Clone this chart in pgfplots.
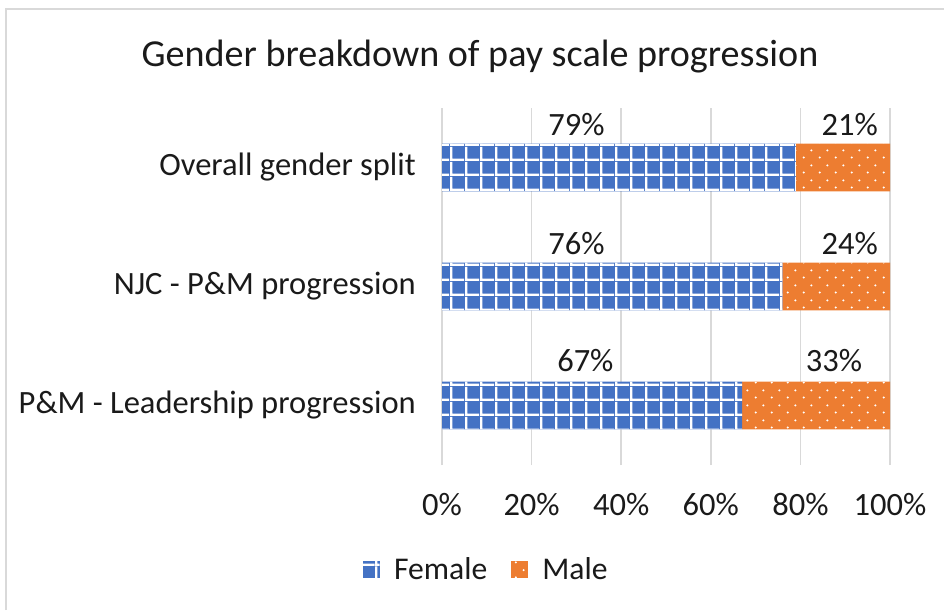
\documentclass[border=0pt]{standalone}
\usepackage{fontspec}
\setmainfont{Carlito}
\usepackage{pgfplots}
\pgfplotsset{compat=1.18}
\usetikzlibrary{patterns.meta}

\definecolor{fem}{HTML}{4472C4}
\definecolor{mal}{HTML}{ED7D31}
\definecolor{gridc}{HTML}{D9D9D9}
\definecolor{txt}{HTML}{1A1A1A}

% white grid over the blue bars
\tikzdeclarepattern{
  name=fgrid,
  type=uncolored,
  bounding box={(0,0) and (0.3cm,0.3cm)},
  tile size={(0.3cm,0.3cm)},
  code={
    \pgfpathrectangle{\pgfpointorigin}{\pgfpoint{0.3cm}{0.05cm}}
    \pgfpathrectangle{\pgfpointorigin}{\pgfpoint{0.05cm}{0.3cm}}
    \pgfusepath{fill}
  }
}
% sparse white dots over the orange bars
\tikzdeclarepattern{
  name=mdots,
  type=uncolored,
  bounding box={(0,0) and (0.32cm,0.3cm)},
  tile size={(0.32cm,0.3cm)},
  code={
    \pgfpathcircle{\pgfpoint{0.08cm}{0.075cm}}{0.024cm}
    \pgfpathcircle{\pgfpoint{0.24cm}{0.225cm}}{0.024cm}
    \pgfusepath{fill}
  }
}

% y: 0 = P&M - Leadership, 1 = NJC - P&M, 2 = Overall
\pgfplotstableread{
y female male
0 67 33
1 76 24
2 79 21
}\splitdata

\pgfplotstableread{
x y label
30   2.36 79\%
91   2.36 21\%
30   1.36 76\%
91   1.36 24\%
32   0.38 67\%
87.5 0.38 33\%
}\labeldata

\begin{document}
\begin{tikzpicture}
\useasboundingbox (0,0) rectangle (18.88,12.2);
\draw[gridc, line width=1.5pt] (0.12,0) -- (0.12,12.02) -- (18.88,12.02);
\node[font=\fontsize{21.7}{26}\selectfont, text=txt] at (9.6,11.06) {Gender breakdown of pay scale progression};

\begin{axis}[
  at={(8.84cm,2.9cm)}, anchor=south west,
  scale only axis,
  width=8.96cm, height=7.14cm,
  xbar stacked,
  bar width=0.4,
  xmin=0, xmax=100,
  ymin=-0.5, ymax=2.5,
  xtick={0,20,40,60,80,100},
  xticklabel={\pgfmathprintnumber{\tick}\%},
  ytick={0,1,2},
  yticklabels={P\&M - Leadership progression, NJC - P\&M progression, Overall gender split},
  xmajorgrids,
  grid style={gridc, line width=1pt},
  axis line style={draw=none},
  major tick length=0pt,
  tick label style={font=\fontsize{18.5}{22}\selectfont, text=txt},
  /pgf/number format/assume math mode=true,
  xticklabel style={yshift=-0.45cm},
  yticklabel style={xshift=-0.4cm},
  legend style={at={(0.1,-0.294)}, anchor=center, draw=none,
    font=\fontsize{18}{21}\selectfont, text=txt, legend columns=-1,
    /tikz/every even column/.append style={column sep=0.4cm},
    /tikz/every odd column/.append style={column sep=0.22cm}},
  legend image code/.code={
    \draw[#1, draw=none] (0cm,-0.17cm) rectangle (0.34cm,0.17cm);
  },
]
\addplot[fill=fem, draw=none,
  postaction={pattern={fgrid}, pattern color=white}]
  table[x=female, y=y] {\splitdata};
\addlegendentry{Female}
\addplot[fill=mal, draw=none,
  postaction={pattern={mdots}, pattern color=white}]
  table[x=male, y=y] {\splitdata};
\addlegendentry{Male}
\end{axis}

% data labels, on an overlaid axis of the same size and limits
\begin{axis}[
  at={(8.84cm,2.9cm)}, anchor=south west,
  scale only axis,
  width=8.96cm, height=7.14cm,
  xmin=0, xmax=100,
  ymin=-0.5, ymax=2.5,
  hide axis,
]
\addplot[draw=none, mark=none, only marks,
  nodes near coords,
  point meta=explicit symbolic,
  every node near coord/.append style={anchor=center, font=\fontsize{18.5}{22}\selectfont, text=txt}]
  table[x=x, y=y, meta=label] {\labeldata};
\end{axis}
\end{tikzpicture}
\end{document}
